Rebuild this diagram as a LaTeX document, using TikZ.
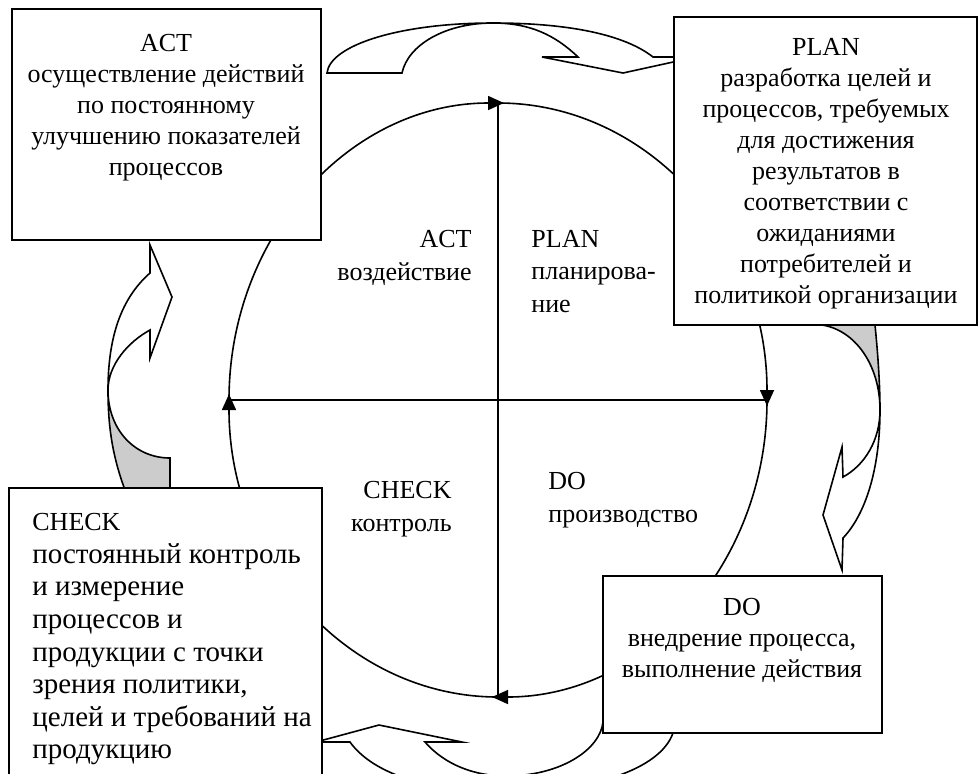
\documentclass[tikz,border=0pt]{standalone}
\usepackage{fontspec}
\setmainfont{Liberation Serif}
\usetikzlibrary{positioning,arrows.meta}
\tikzstyle{box} = [draw, line width=1pt, fill=white, inner sep=0, outer sep=0]
\tikzstyle{line} = [draw, line width=0.8pt]
\tikzstyle{cyclearrow} = [draw, line width=0.8pt, shorten >=-3pt, -{Triangle[length=8pt,width=7pt]}]
\tikzstyle{ribbon} = [draw, line width=0.8pt, line join=miter]
\tikzstyle{shade} = [fill=black!20]
\tikzstyle{boxtext} = [inner sep=0, font=\fontsize{13}{15.5}\selectfont]
\tikzstyle{sectortext} = [inner sep=0, font=\fontsize{13}{16.2}\selectfont]

\begin{document}
\begin{tikzpicture}[x=0.5pt, y=-0.5pt]
\useasboundingbox (0,0) rectangle (979,773);

% curved block arrows between the boxes
\fill [shade] (108,390) .. controls (108,425) and (112,455) .. (125,490) -- (170,490) -- (170,458) .. controls (135,458) and (108,430) .. (108,390) -- cycle;
\fill [shade] (822,325) .. controls (855,330) and (880,365) .. (880,410) .. controls (880,385) and (878,355) .. (875,325) -- cycle;

\path [ribbon] (327,73) .. controls (330,45) and (400,23) .. (493,23) .. controls (570,23) and (625,35) .. (653,57) -- (696,57) -- (623,73) -- (542,57) -- (578,57) .. controls (555,35) and (530,23) .. (493,23) .. controls (445,23) and (408,45) .. (402,73) -- cycle;
\path [ribbon] (125,490) .. controls (112,455) and (108,425) .. (108,390) .. controls (108,330) and (125,295) .. (150,273) -- (150,245) -- (172,297) -- (150,358) -- (150,330) .. controls (128,342) and (108,365) .. (108,390) .. controls (108,430) and (135,458) .. (170,458) -- (170,490);
\path [ribbon] (822,325) .. controls (855,330) and (880,365) .. (880,410) .. controls (880,440) and (865,465) .. (843,477) -- (842,447) -- (823,515) -- (842,570) -- (843,538) .. controls (865,515) and (880,470) .. (880,410) .. controls (880,385) and (878,355) .. (875,325);
\path [ribbon] (673,733) .. controls (660,770) and (590,792) .. (505,792) .. controls (420,792) and (370,770) .. (350,742) -- (316,742) -- (379,725) -- (462,742) -- (425,742) .. controls (445,765) and (475,776) .. (506,776) .. controls (560,776) and (600,750) .. (603,722);

% the cycle
\coordinate (eleft) at (229,400);
\coordinate (etop) at (498,103);
\coordinate (eright) at (767,400);
\coordinate (ebottom) at (498,697);
\path [cyclearrow] (eleft) arc[start angle=180, end angle=270, x radius=269, y radius=297];
\path [cyclearrow] (etop) arc[start angle=270, end angle=360, x radius=269, y radius=297];
\path [cyclearrow] (eright) arc[start angle=0, end angle=90, x radius=269, y radius=297];
\path [cyclearrow] (ebottom) arc[start angle=90, end angle=180, x radius=269, y radius=297];
\path [line] (etop) -- (ebottom);
\path [line] (eleft) -- (eright);

\node [sectortext, anchor=north east, align=right] at (472,230) (actsector) {ACT\\воздействие};
\node [sectortext, anchor=north west, align=left] at (531,230) (plansector) {PLAN\\планирова-\\ние};
\node [sectortext, anchor=north east, align=right] at (452,481) (checksector) {CHECK\\контроль};
\node [sectortext, anchor=north west, align=left] at (548,472) (dosector) {DO\\производство};

% the four boxes
\node [box, minimum width=154.5pt, minimum height=115.5pt] at (166.5,124.5) (actbox) {};
\node [box, minimum width=151.5pt, minimum height=154pt] at (825.5,171) (planbox) {};
\node [box, minimum width=139.5pt, minimum height=78.5pt] at (742.5,654.5) (dobox) {};
\node [box, minimum width=156.5pt, minimum height=161pt] at (165.5,649) (checkbox) {};

\node [boxtext, anchor=north, align=center] at (166,34) (acttext) {ACT\\осуществление действий\\по постоянному\\улучшению показателей\\процессов};
\node [boxtext, anchor=north, align=center] at (826,38) (plantext) {PLAN\\разработка целей и\\процессов, требуемых\\для достижения\\результатов в\\соответствии с\\ожиданиями\\потребителей и\\политикой организации};
\node [boxtext, anchor=north, align=center] at (742,598) (dotext) {DO\\внедрение процесса,\\выполнение действия};
\node [boxtext, anchor=north west, align=left, font=\fontsize{14.5}{16.3}\selectfont] at (32,513) (checktext) {{\fontsize{13}{16.3}\selectfont CHECK}\\постоянный контроль\\и измерение\\процессов и\\продукции с точки\\зрения политики,\\целей и требований на\\продукцию};
\end{tikzpicture}
\end{document}
